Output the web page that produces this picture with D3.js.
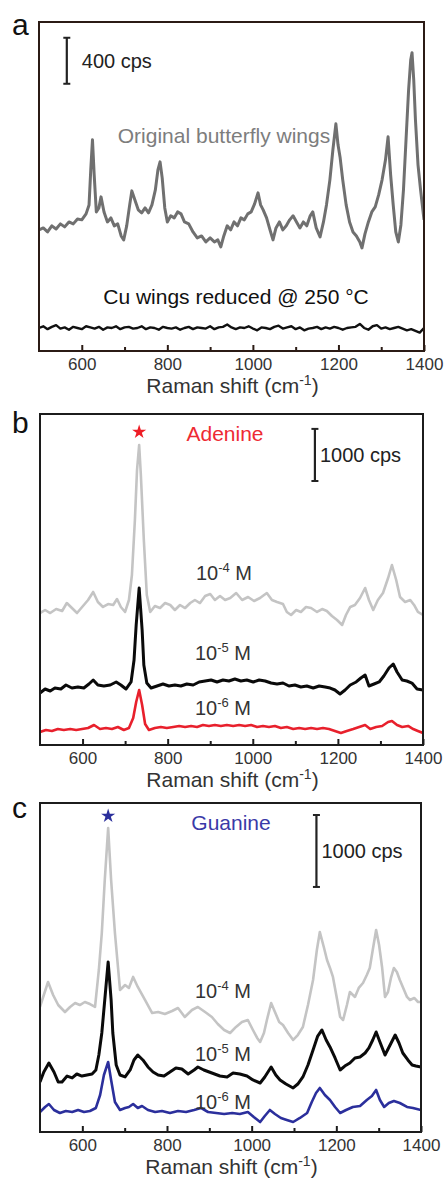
<!DOCTYPE html>
<html>
<head>
<meta charset="utf-8">
<script src="https://cdn.jsdelivr.net/npm/d3@7/dist/d3.min.js"></script>
<style>
  html, body { margin: 0; padding: 0; background: #fff; }
  svg { display: block; font-family: "Liberation Sans", Arial, Helvetica, sans-serif; }
</style>
</head>
<body>
<script>
// ---- data: [Raman shift (cm-1), intensity (cps)] ----
const originalWings = [
  [500,1053],[510,1070],[520,1035],[530,1088],[540,1061],[550,1105],[560,1079],[570,1122],[580,1105],[590,1148],
  [600,1140],[610,1192],[617,1270],[621,1575],[625,1836],[629,1531],[634,1209],[640,1244],[645,1340],[652,1209],
  [660,1122],[668,1157],[676,1088],[684,1105],[692,1000],[698,966],[705,1088],[712,1270],[717,1392],[724,1314],
  [732,1227],[740,1201],[748,1244],[756,1201],[764,1270],[772,1401],[778,1575],[783,1644],[788,1505],[794,1244],
  [800,1122],[808,1175],[816,1157],[824,1209],[832,1192],[840,1122],[850,1105],[860,1035],[870,983],[880,1000],
  [890,948],[900,983],[910,948],[918,966],[925,905],[932,1000],[940,1088],[948,1053],[956,1122],[964,1088],
  [972,1157],[980,1140],[988,1192],[996,1209],[1004,1279],[1012,1375],[1018,1270],[1024,1227],[1032,1157],[1040,1053],
  [1047,966],[1054,1070],[1062,1122],[1070,1053],[1078,1088],[1086,1140],[1094,1175],[1102,1122],[1110,1070],[1118,1122],
  [1126,1088],[1134,1175],[1140,1209],[1148,1070],[1157,992],[1165,1122],[1172,1270],[1180,1488],[1187,1749],[1194,1975],
  [1199,1792],[1204,1679],[1210,1488],[1218,1270],[1226,1122],[1234,1035],[1242,1000],[1250,948],[1255,896],[1262,1018],
  [1270,1122],[1278,1209],[1286,1253],[1294,1357],[1302,1488],[1310,1662],[1316,1862],[1322,1531],[1328,1270],[1334,1035],
  [1340,948],[1346,1096],[1352,1401],[1358,1836],[1364,2271],[1369,2532],[1372,2593],[1376,2358],[1380,2010],[1386,1618],
  [1392,1401],[1400,1140]
];
const cuWings = [
  [500,200],[510,215],[520,190],[530,210],[540,225],[550,195],[560,205],[570,185],[580,210],[590,200],
  [600,190],[610,215],[620,205],[630,195],[640,210],[650,185],[660,205],[670,200],[680,215],[690,190],
  [700,205],[710,210],[720,195],[730,200],[740,215],[750,190],[760,205],[770,200],[780,185],[790,210],
  [800,200],[810,195],[820,205],[830,185],[840,200],[850,210],[860,190],[870,205],[880,200],[890,195],
  [900,215],[910,190],[920,205],[930,210],[940,230],[950,205],[960,190],[970,205],[980,200],[990,215],
  [1000,195],[1010,180],[1020,205],[1030,200],[1040,190],[1050,210],[1060,220],[1070,195],[1080,205],[1090,215],
  [1100,190],[1110,205],[1120,180],[1130,195],[1140,200],[1150,210],[1160,190],[1170,205],[1180,195],[1190,210],
  [1200,200],[1210,185],[1220,200],[1230,205],[1240,210],[1250,235],[1260,200],[1270,185],[1280,215],[1290,225],
  [1300,195],[1310,205],[1320,190],[1330,200],[1340,210],[1350,195],[1360,180],[1370,190],[1380,175],[1390,160],[1400,200]
];

const adenine4 = [
  [500,2534],[512,2592],[524,2534],[538,2611],[552,2573],[563,2726],[575,2630],[587,2534],[601,2669],[613,2784],
  [625,2938],[636,2746],[648,2650],[660,2707],[672,2688],[681,2803],[690,2650],[700,2554],[709,2784],[716,3264],
  [723,4320],[728,5280],[733,5760],[737,5184],[744,3936],[751,2880],[759,2554],[770,2669],[782,2630],[794,2726],
  [806,2688],[817,2592],[829,2688],[841,2630],[853,2726],[864,2784],[876,2726],[888,2861],[900,2899],[911,2784],
  [923,2861],[935,2784],[947,2822],[961,2918],[975,2784],[989,2842],[1003,2765],[1017,2822],[1033,2918],[1045,2784],
  [1057,2746],[1071,2707],[1080,2554],[1090,2496],[1102,2592],[1113,2554],[1125,2650],[1137,2630],[1151,2554],[1163,2611],
  [1174,2573],[1186,2477],[1198,2400],[1210,2304],[1219,2496],[1229,2650],[1240,2688],[1252,2822],[1264,3014],[1273,2784],
  [1283,2592],[1294,2784],[1306,2918],[1318,3206],[1327,3456],[1337,3168],[1346,2842],[1358,2746],[1370,2784],[1379,2688],
  [1388,2554],[1400,2496]
];
const adenine5 = [
  [500,998],[512,1075],[524,1037],[535,1094],[549,1075],[561,1152],[575,1094],[589,1114],[603,1094],[615,1171],
  [625,1248],[636,1152],[650,1133],[665,1152],[679,1210],[690,1152],[702,1075],[714,1210],[721,1632],[726,2304],
  [733,3014],[740,2208],[744,1536],[751,1190],[761,1094],[775,1133],[789,1171],[803,1133],[817,1152],[831,1133],
  [845,1171],[860,1152],[874,1210],[888,1229],[902,1248],[916,1210],[930,1248],[944,1229],[958,1267],[972,1229],
  [986,1248],[1001,1210],[1015,1248],[1029,1229],[1043,1190],[1057,1171],[1071,1190],[1085,1133],[1099,1152],[1113,1114],
  [1127,1133],[1142,1094],[1156,1133],[1170,1114],[1182,1094],[1193,1056],[1205,979],[1217,1056],[1229,1152],[1243,1210],
  [1254,1286],[1264,1344],[1273,1133],[1285,1171],[1297,1210],[1308,1325],[1320,1478],[1330,1555],[1339,1402],[1351,1248],
  [1362,1229],[1374,1190],[1386,1075],[1400,1056]
];
const adenine6 = [
  [500,250],[514,288],[528,269],[542,307],[556,288],[571,307],[585,288],[599,307],[613,326],[627,384],
  [641,307],[655,326],[669,307],[683,346],[697,288],[709,326],[719,518],[726,826],[733,1056],[740,768],
  [747,403],[756,288],[770,326],[784,346],[798,326],[813,346],[827,365],[841,346],[855,365],[869,346],
  [883,384],[897,365],[911,384],[925,365],[939,384],[954,365],[968,384],[982,365],[996,384],[1010,346],
  [1024,365],[1038,346],[1052,365],[1066,326],[1080,346],[1095,307],[1109,326],[1123,307],[1137,326],[1151,307],
  [1165,326],[1179,307],[1193,269],[1207,230],[1221,269],[1236,307],[1250,346],[1264,384],[1276,307],[1290,346],
  [1304,365],[1318,442],[1327,461],[1339,384],[1351,346],[1365,365],[1377,307],[1388,269],[1400,230]
];

const guanine4 = [
  [500,1738],[509,1904],[519,2085],[531,1904],[543,1765],[559,1668],[571,1738],[583,1793],[594,1765],[606,1807],
  [618,1779],[630,1738],[639,2252],[646,2766],[653,3503],[661,4226],[668,3503],[677,2766],[689,1974],[701,2043],
  [710,2002],[720,2155],[731,2016],[748,1835],[765,1654],[779,1668],[795,1640],[812,1682],[826,1724],[842,1599],
  [859,1696],[873,1738],[890,1668],[906,1599],[920,1501],[935,1418],[949,1376],[963,1460],[977,1529],[991,1557],
  [1003,1418],[1013,1307],[1020,1251],[1029,1376],[1036,1557],[1046,1793],[1055,1668],[1065,1529],[1074,1487],[1086,1376],
  [1098,1279],[1109,1348],[1121,1460],[1133,1765],[1145,2113],[1154,2530],[1161,2780],[1171,2558],[1178,2391],[1185,2280],
  [1192,2155],[1202,1835],[1209,1599],[1216,1557],[1225,1765],[1232,1946],[1244,1877],[1253,2002],[1263,2071],[1272,2182],
  [1279,2280],[1286,2530],[1294,2808],[1301,2599],[1308,2294],[1315,1877],[1322,1946],[1329,2141],[1336,2280],[1343,2224],
  [1350,2113],[1360,1974],[1367,1877],[1374,1835],[1384,1863],[1393,1807],[1400,1807]
];
const guanine5 = [
  [500,695],[509,834],[521,959],[533,834],[543,695],[552,695],[564,778],[576,751],[587,806],[599,778],
  [611,792],[623,806],[632,862],[639,1070],[646,1376],[653,1835],[661,2363],[668,1835],[672,1376],[680,931],
  [689,792],[701,765],[713,862],[722,1001],[731,1070],[743,1001],[755,904],[767,834],[779,792],[793,778],
  [807,834],[821,890],[835,876],[850,806],[864,862],[873,904],[887,862],[906,820],[925,778],[942,765],
  [956,820],[972,806],[989,778],[1003,723],[1020,681],[1031,765],[1046,904],[1057,792],[1067,723],[1081,667],
  [1098,612],[1109,667],[1121,765],[1133,931],[1145,1140],[1156,1334],[1166,1418],[1176,1279],[1185,1182],[1197,1029],
  [1209,862],[1220,917],[1232,959],[1244,1029],[1256,1043],[1268,1098],[1277,1168],[1286,1279],[1294,1390],[1303,1251],
  [1315,1070],[1327,1209],[1339,1348],[1348,1237],[1357,1098],[1369,1001],[1379,931],[1388,917],[1400,904]
];
const guanine6 = [
  [500,278],[512,348],[521,389],[533,306],[547,264],[561,292],[576,278],[590,306],[604,278],[618,292],
  [632,334],[642,514],[651,792],[661,973],[668,723],[677,417],[689,306],[701,334],[710,348],[720,389],
  [731,334],[741,361],[755,306],[772,278],[788,292],[807,264],[826,292],[845,278],[864,306],[880,334],
  [897,278],[916,264],[935,250],[954,264],[972,250],[991,278],[1005,209],[1020,139],[1031,222],[1043,306],
  [1055,250],[1069,195],[1083,167],[1098,139],[1114,195],[1131,264],[1142,417],[1152,542],[1161,612],[1173,514],
  [1185,445],[1197,348],[1209,264],[1223,306],[1239,348],[1256,361],[1272,445],[1284,500],[1294,584],[1303,445],
  [1313,348],[1324,403],[1336,431],[1350,403],[1367,348],[1381,334],[1400,306]
];

const shiftDomain = [500, 1400];
const majorTicks = [600, 800, 1000, 1200, 1400];
const minorTicks = [700, 900, 1100, 1300];

// ---- layout ----
const svg = d3.select("body").append("svg")
  .attr("width", 445)
  .attr("height", 1178);

const TEXT = "#333";

function superLabel(g, x, y, base, sup, tail, size, anchor) {
  const t = g.append("text")
    .attr("x", x).attr("y", y)
    .attr("font-size", size)
    .attr("fill", TEXT)
    .attr("text-anchor", anchor || "start");
  t.append("tspan").text(base);
  t.append("tspan").attr("font-size", Math.round(size * 0.65)).attr("dy", -size * 0.38).text(sup);
  t.append("tspan").attr("dy", size * 0.38).text(tail);
  return t;
}

function drawPanel(p) {
  const x = d3.scaleLinear().domain(shiftDomain).range([p.left, p.right]);
  const y = d3.scaleLinear().domain([0, p.yMax]).range([p.bottom, p.top]);
  const g = svg.append("g");

  const clipId = "clip-" + p.letter;
  g.append("clipPath").attr("id", clipId)
    .append("rect")
    .attr("x", p.left).attr("y", p.top)
    .attr("width", p.right - p.left).attr("height", p.bottom - p.top);

  const line = d3.line().x(d => x(d[0])).y(d => y(d[1]));
  p.series.forEach(s => {
    g.append("path")
      .datum(s.data)
      .attr("clip-path", `url(#${clipId})`)
      .attr("fill", "none")
      .attr("stroke", s.color)
      .attr("stroke-width", s.width)
      .attr("stroke-linejoin", "round")
      .attr("d", line);
  });

  // frame
  g.append("rect")
    .attr("x", p.left).attr("y", p.top)
    .attr("width", p.right - p.left).attr("height", p.bottom - p.top)
    .attr("fill", "none")
    .attr("stroke", p.frame)
    .attr("stroke-width", 2);

  // ticks point inward
  const axis = g.append("g")
    .attr("transform", `translate(0,${p.bottom})`)
    .call(d3.axisBottom(x).tickValues(majorTicks).tickSize(-6).tickPadding(7).tickFormat(d3.format("d")));
  axis.select(".domain").remove();
  axis.selectAll(".tick line").attr("stroke", p.frame).attr("stroke-width", 2);
  axis.selectAll(".tick text")
    .attr("font-size", 17)
    .attr("fill", TEXT)
    .attr("font-family", "'Liberation Sans', Arial, sans-serif");

  const minor = g.append("g")
    .attr("transform", `translate(0,${p.bottom})`)
    .call(d3.axisBottom(x).tickValues(minorTicks).tickSize(-4).tickFormat(""));
  minor.select(".domain").remove();
  minor.selectAll(".tick line").attr("stroke", p.frame).attr("stroke-width", 2);

  superLabel(g, (p.left + p.right) / 2 + 1, p.bottom + 42, "Raman shift (cm", "-1", ")", 21, "middle");

  // panel letter
  g.append("text")
    .attr("x", 12).attr("y", p.letterY)
    .attr("font-size", 30)
    .attr("fill", "#111")
    .text(p.letter);

  // scale bar
  const sb = p.scaleBar;
  const sx = x(sb.shift);
  g.append("line")
    .attr("x1", sx).attr("x2", sx)
    .attr("y1", y(sb.from)).attr("y2", y(sb.from + sb.cps))
    .attr("stroke", "#222").attr("stroke-width", 2.2);
  [sb.from, sb.from + sb.cps].forEach(v => {
    g.append("line")
      .attr("x1", sx - 3.5).attr("x2", sx + 3.5)
      .attr("y1", y(v)).attr("y2", y(v))
      .attr("stroke", "#222").attr("stroke-width", 2);
  });
  g.append("text")
    .attr("x", sx + sb.dx)
    .attr("y", y(sb.from + sb.cps / 2) + 7)
    .attr("font-size", 20)
    .attr("fill", "#222")
    .text(sb.cps + " cps");

  return { g, x, y };
}

// ---- panel a ----
const pa = drawPanel({
  letter: "a", letterY: 35,
  left: 39, right: 424, top: 22, bottom: 351, yMax: 2860,
  frame: "#2b1b15",
  series: [
    { data: originalWings, color: "#707070", width: 3 },
    { data: cuWings, color: "#111", width: 2.4 }
  ],
  scaleBar: { shift: 565, from: 2323, cps: 400, dx: 15 }
});
pa.g.append("text")
  .attr("x", 224).attr("y", 143)
  .attr("text-anchor", "middle")
  .attr("font-size", 21)
  .attr("fill", "#7d7d7d")
  .text("Original butterfly wings");
pa.g.append("text")
  .attr("x", 236).attr("y", 304)
  .attr("text-anchor", "middle")
  .attr("font-size", 21)
  .attr("fill", "#111")
  .text("Cu wings reduced @ 250 \u00B0C");

// ---- panel b ----
const pb = drawPanel({
  letter: "b", letterY: 433,
  left: 40, right: 423, top: 414, bottom: 745, yMax: 6355,
  frame: "#1c1c1c",
  series: [
    { data: adenine4, color: "#c4c4c4", width: 2.6 },
    { data: adenine5, color: "#0a0a0a", width: 3 },
    { data: adenine6, color: "#e8202c", width: 2.6 }
  ],
  scaleBar: { shift: 1146, from: 5069, cps: 1000, dx: 5 }
});
pb.g.append("path")
  .attr("d", d3.symbol(d3.symbolStar, 62)())
  .attr("transform", `translate(${pb.x(733)},${pb.y(5760) - 13})`)
  .attr("fill", "#ee1c25");
pb.g.append("text")
  .attr("x", 225).attr("y", 441)
  .attr("text-anchor", "middle")
  .attr("font-size", 21)
  .attr("fill", "#ee2a33")
  .text("Adenine");
superLabel(pb.g, 196, 580, "10", "-4", " M", 20);
superLabel(pb.g, 195, 660, "10", "-5", " M", 20);
superLabel(pb.g, 195, 715, "10", "-6", " M", 20);

// ---- panel c ----
const pc = drawPanel({
  letter: "c", letterY: 818,
  left: 40, right: 421, top: 803, bottom: 1132, yMax: 4573,
  frame: "#1c1c1c",
  series: [
    { data: guanine4, color: "#c4c4c4", width: 2.6 },
    { data: guanine5, color: "#0a0a0a", width: 3 },
    { data: guanine6, color: "#2b2f9c", width: 2.6 }
  ],
  scaleBar: { shift: 1153, from: 3406, cps: 1000, dx: 5 }
});
pc.g.append("path")
  .attr("d", d3.symbol(d3.symbolStar, 62)())
  .attr("transform", `translate(${pc.x(661)},${pc.y(4226) - 12})`)
  .attr("fill", "#2b2f9c");
pc.g.append("text")
  .attr("x", 231).attr("y", 830)
  .attr("text-anchor", "middle")
  .attr("font-size", 21)
  .attr("fill", "#3a3aa8")
  .text("Guanine");
superLabel(pc.g, 195, 998, "10", "-4", " M", 20);
superLabel(pc.g, 195, 1061, "10", "-5", " M", 20);
superLabel(pc.g, 195, 1109, "10", "-6", " M", 20);
</script>
</body>
</html>
